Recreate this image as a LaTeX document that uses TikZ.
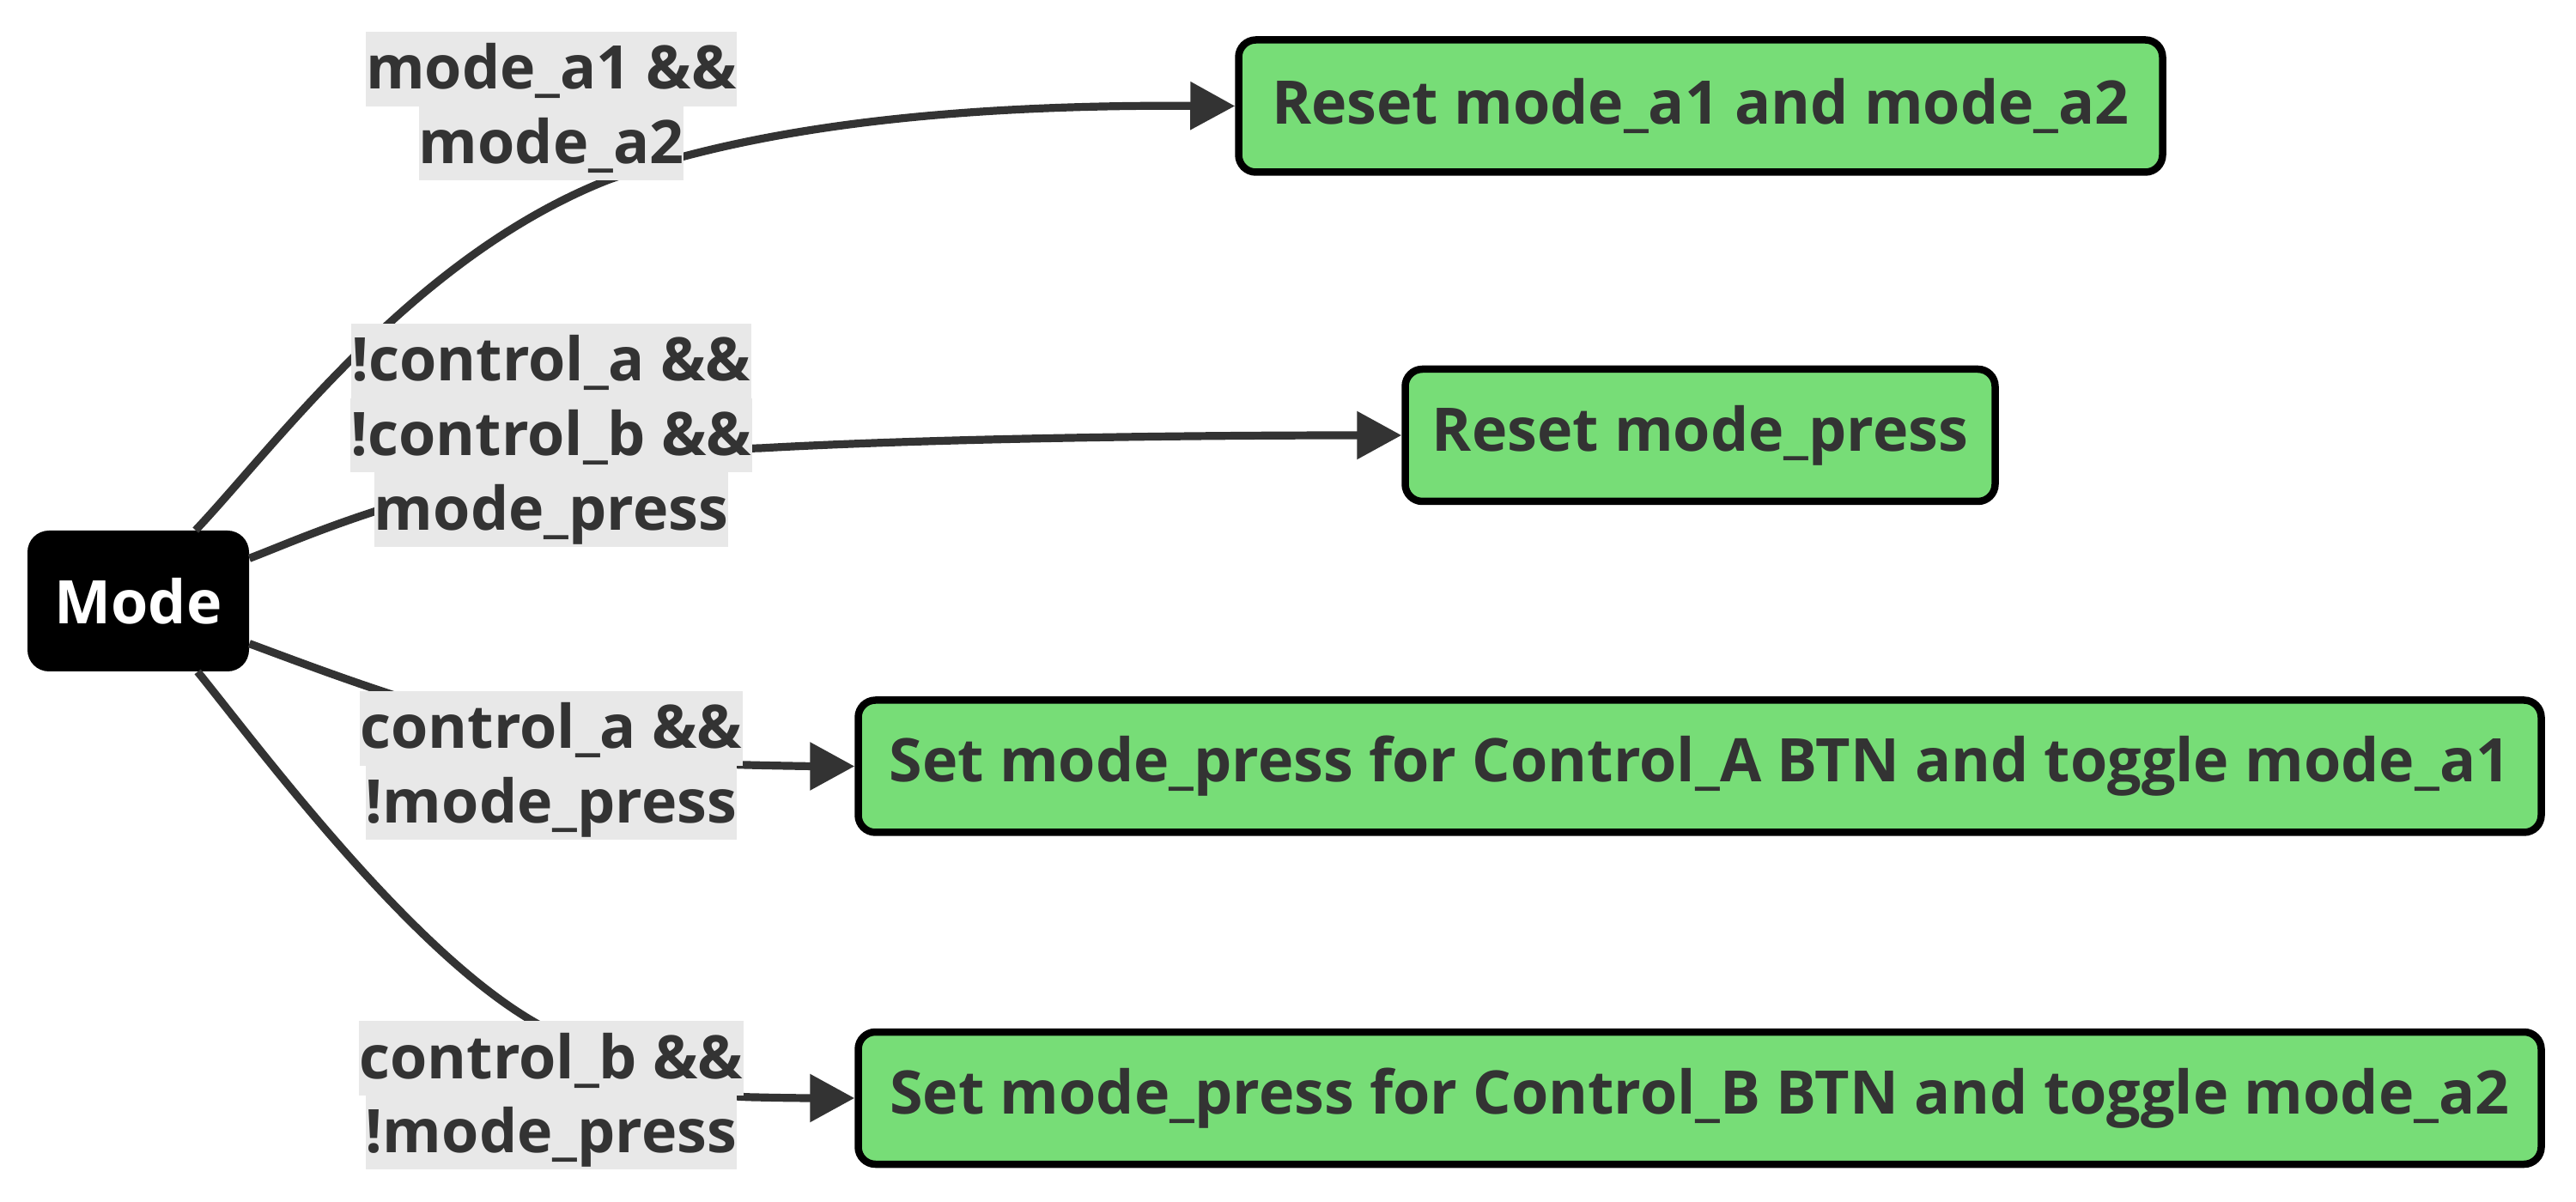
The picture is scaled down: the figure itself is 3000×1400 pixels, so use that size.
\documentclass[tikz,border=0pt]{standalone}
\usepackage{fontspec}
\setmainfont{Open Sans}
\usetikzlibrary{arrows.meta}
\definecolor{edgec}{HTML}{333333}
\definecolor{txt}{HTML}{333333}
\definecolor{lblbg}{HTML}{E8E8E8}
\definecolor{boxgreen}{HTML}{77DD77}
\tikzset{
  basefont/.style={font=\fontsize{35pt}{43pt}\selectfont\bfseries},
  modebox/.style={basefont, fill=black, text=white, rounded corners=12.5pt,
    minimum width=129pt, minimum height=82pt, inner sep=0pt},
  actbox/.style={basefont, draw=black, line width=4.25pt, fill=boxgreen, text=txt,
    rounded corners=10pt, minimum height=77pt, inner sep=0pt},
  lbl/.style={basefont, fill=lblbg, text=txt, inner xsep=0pt, inner ysep=0pt,
    outer sep=0pt, text height=33.5pt, text depth=9.8pt},
  conn/.style={draw=edgec, line width=4.6pt, -{Triangle[length=26pt,width=27pt]}},
}
\begin{document}
\begin{tikzpicture}[x=0.5pt,y=-0.5pt]
\useasboundingbox (0,0) rectangle (3000,1400);
% nodes
\node[modebox] (mode) at (161,700) {Mode};
\node[actbox, minimum width=538pt] (b1) at (1980.5,123.5) {Reset mode\_a1 and mode\_a2};
\node[actbox, minimum width=343.5pt] (b2) at (1980,507) {Reset mode\_press};
\node[actbox, minimum width=980pt] (b3) at (1979.5,892.5) {Set mode\_press for Control\_A BTN and toggle mode\_a1};
\node[actbox, minimum width=980pt] (b4) at (1979.5,1279) {Set mode\_press for Control\_B BTN and toggle mode\_a2};
% connectors
\draw[conn] (mode.51) .. controls (320,520) and (480,300) .. (707,210)
  .. controls (900,140) and (1150,122) .. (b1.west);
\draw[conn] (mode.21) .. controls (370,620) and (560,530) .. (885,522)
  .. controls (1100,510) and (1400,507) .. (b2.west);
\draw[conn] (mode.-21) .. controls (400,790) and (640,885) .. (870,891)
  .. controls (910,892) and (950,892.5) .. (b3.west);
\draw[conn] (mode.-50) .. controls (305,875) and (490,1125) .. (640,1200)
  .. controls (720,1250) and (800,1277) .. (880,1278)
  .. controls (920,1279) and (950,1279) .. (b4.west);
% labels
\node[lbl, anchor=north] (l1a) at (642,37) {mode\_a1 \&\&};
\node[lbl, anchor=north] (l1b) at (l1a.south) {mode\_a2};
\node[lbl, anchor=north] (l2a) at (642,377) {!control\_a \&\&};
\node[lbl, anchor=north] (l2b) at (l2a.south) {!control\_b \&\&};
\node[lbl, anchor=north] (l2c) at (l2b.south) {mode\_press};
\node[lbl, anchor=north] (l3a) at (642,805) {control\_a \&\&};
\node[lbl, anchor=north] (l3b) at (l3a.south) {!mode\_press};
\node[lbl, anchor=north] (l4a) at (642,1189) {control\_b \&\&};
\node[lbl, anchor=north] (l4b) at (l4a.south) {!mode\_press};
\end{tikzpicture}
\end{document}
